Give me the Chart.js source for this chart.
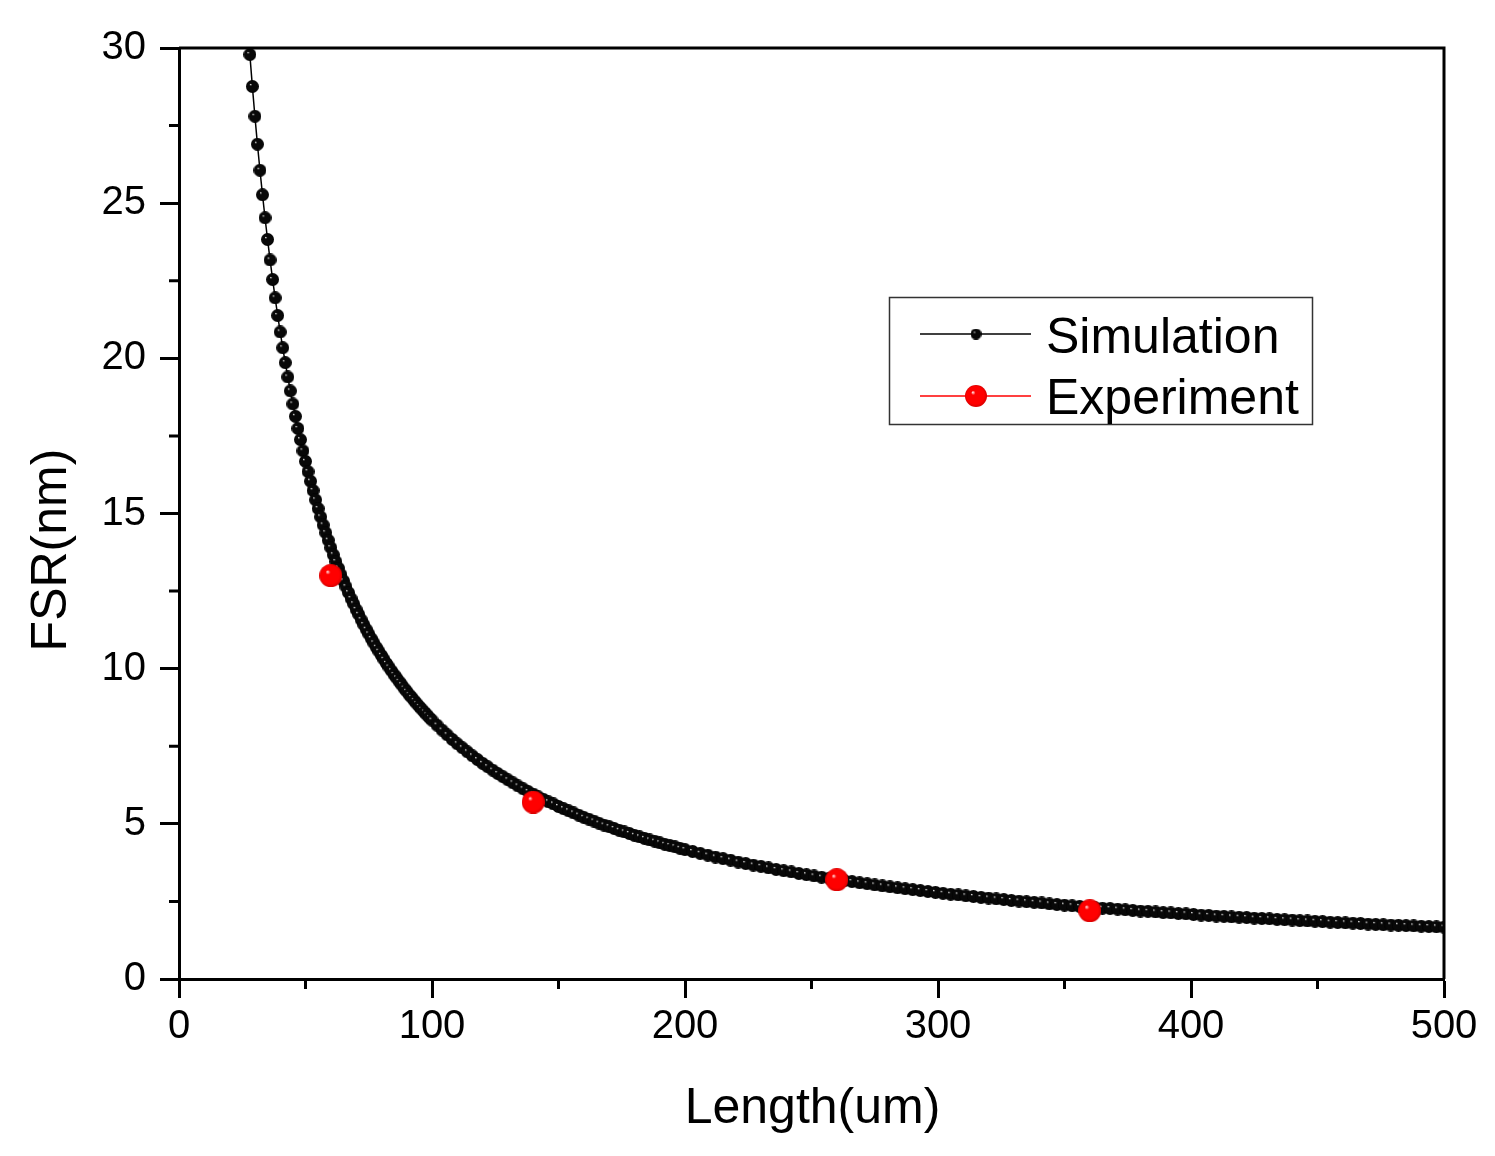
<!DOCTYPE html>
<html>
<head>
<meta charset="utf-8">
<script src="https://cdn.jsdelivr.net/npm/chart.js@4"></script>
<style>
  body { margin: 0; background: #fff; }
  canvas { display: block; }
</style>
</head>
<body>
<canvas id="fsrChart" width="1495" height="1156"></canvas>
<script>
// simulation: FSR
const simLength = [
  28, 29, 30, 31, 32, 33, 34, 35, 36, 37, 38, 39, 40, 41, 42, 43, 44, 45, 46, 47,
  48, 49, 50, 51, 52, 53, 54, 55, 56, 57, 58, 59, 60, 61, 62, 63, 64, 65, 66, 67,
  68, 69, 70, 71, 72, 73, 74, 75, 76, 77, 78, 79, 80, 81, 82, 83, 84, 85, 86, 87,
  88, 89, 90, 91, 92, 93, 94, 95, 96, 97, 98, 99, 100,
  102, 104, 106, 108, 110, 112, 114, 116, 118, 120, 122, 124, 126, 128, 130, 132, 134, 136, 138, 140,
  142, 144, 146, 148, 150, 152, 154, 156, 158, 160, 162, 164, 166, 168, 170, 172, 174, 176, 178, 180,
  182, 184, 186, 188, 190, 192, 194, 196, 198, 200,
  203, 206, 209, 212, 215, 218, 221, 224, 227, 230, 233, 236, 239, 242, 245, 248, 251, 254, 257, 260,
  263, 266, 269, 272, 275, 278, 281, 284, 287, 290, 293, 296, 299, 302, 305, 308, 311, 314, 317, 320,
  323, 326, 329, 332, 335, 338, 341, 344, 347, 350, 353, 356, 359, 362, 365, 368, 371, 374, 377, 380,
  383, 386, 389, 392, 395, 398, 401, 404, 407, 410, 413, 416, 419, 422, 425, 428, 431, 434, 437, 440,
  443, 446, 449, 452, 455, 458, 461, 464, 467, 470, 473, 476, 479, 482, 485, 488, 491, 494, 497, 500
];
const simFsr = [
  29.79, 28.76, 27.80, 26.90, 26.06, 25.27, 24.53, 23.83, 23.17, 22.54, 21.95, 21.38, 20.85, 20.34, 19.86, 19.40, 18.95, 18.53, 18.13, 17.74,
  17.38, 17.02, 16.68, 16.35, 16.04, 15.74, 15.44, 15.16, 14.89, 14.63, 14.38, 14.14, 13.90, 13.67, 13.45, 13.24, 13.03, 12.83, 12.64, 12.45,
  12.26, 12.09, 11.91, 11.75, 11.58, 11.42, 11.27, 11.12, 10.97, 10.83, 10.69, 10.56, 10.43, 10.30, 10.17, 10.05, 9.93, 9.81, 9.70, 9.59,
  9.48, 9.37, 9.27, 9.16, 9.07, 8.97, 8.87, 8.78, 8.69, 8.60, 8.51, 8.42, 8.34,
  8.18, 8.02, 7.87, 7.72, 7.58, 7.45, 7.32, 7.19, 7.07, 6.95, 6.84, 6.73, 6.62, 6.52, 6.42, 6.32, 6.22, 6.13, 6.04, 5.96,
  5.87, 5.79, 5.71, 5.64, 5.56, 5.49, 5.42, 5.35, 5.28, 5.21, 5.15, 5.09, 5.02, 4.96, 4.91, 4.85, 4.79, 4.74, 4.69, 4.63,
  4.58, 4.53, 4.48, 4.44, 4.39, 4.34, 4.30, 4.26, 4.21, 4.17,
  4.11, 4.05, 3.99, 3.93, 3.88, 3.83, 3.77, 3.72, 3.67, 3.63, 3.58, 3.53, 3.49, 3.45, 3.40, 3.36, 3.32, 3.28, 3.25, 3.21,
  3.17, 3.14, 3.10, 3.07, 3.03, 3.00, 2.97, 2.94, 2.91, 2.88, 2.85, 2.82, 2.79, 2.76, 2.73, 2.71, 2.68, 2.66, 2.63, 2.61,
  2.58, 2.56, 2.53, 2.51, 2.49, 2.47, 2.45, 2.42, 2.40, 2.38, 2.36, 2.34, 2.32, 2.30, 2.28, 2.27, 2.25, 2.23, 2.21, 2.19,
  2.18, 2.16, 2.14, 2.13, 2.11, 2.10, 2.08, 2.06, 2.05, 2.03, 2.02, 2.00, 1.99, 1.98, 1.96, 1.95, 1.94, 1.92, 1.91, 1.90,
  1.88, 1.87, 1.86, 1.85, 1.83, 1.82, 1.81, 1.80, 1.79, 1.77, 1.76, 1.75, 1.74, 1.73, 1.72, 1.71, 1.70, 1.69, 1.68, 1.67
];

// measured points
const expLength = [60, 140, 260, 360];
const expFsr = [13.0, 5.7, 3.2, 2.2];

const xTicks = [0, 100, 200, 300, 400, 500];
const yTicks = [0, 5, 10, 15, 20, 25, 30];
const xMinor = [50, 150, 250, 350, 450];
const yMinor = [2.5, 7.5, 12.5, 17.5, 22.5, 27.5];

const seriesNames = ['Simulation', 'Experiment'];
const axisTitles = { x: 'Length(um)', y: 'FSR(nm)' };

const FONT = '"Liberation Sans", Arial, sans-serif';

// shaded ball sprite for the markers
const makeBall = (d, body, edge) => {
  const c = document.createElement('canvas');
  c.width = d;
  c.height = d;
  const g = c.getContext('2d');
  const r = d / 2;
  const grad = g.createRadialGradient(r * 0.7, r * 0.65, 0, r, r, r);
  grad.addColorStop(0, '#ffffff');
  grad.addColorStop(0.2, body);
  grad.addColorStop(0.8, body);
  grad.addColorStop(1, edge);
  g.fillStyle = grad;
  g.beginPath();
  g.arc(r, r, r, 0, Math.PI * 2);
  g.fill();
  return c;
};
const blackBall = makeBall(13, '#080808', '#000000');
const redBall = makeBall(23, '#ff0000', '#d80000');
const blackBallSmall = makeBall(11, '#080808', '#000000');
const redBallSmall = makeBall(22, '#ff0000', '#d80000');

const simPoints = simLength.map((x, i) => ({ x: x, y: simFsr[i] }));
const expPoints = expLength.map((x, i) => ({ x: x, y: expFsr[i] }));

const frameAndExtras = {
  id: 'frameAndExtras',
  afterDraw(chart) {
    const { ctx, chartArea, scales } = chart;
    const xs = scales.x, ys = scales.y;
    ctx.save();
    ctx.strokeStyle = '#000';
    ctx.lineWidth = 3;
    // top and right frame
    ctx.beginPath();
    ctx.moveTo(chartArea.left, chartArea.top);
    ctx.lineTo(chartArea.right, chartArea.top);
    ctx.lineTo(chartArea.right, chartArea.bottom);
    ctx.stroke();
    // minor ticks
    ctx.beginPath();
    xMinor.forEach(v => {
      const px = xs.getPixelForValue(v);
      ctx.moveTo(px, chartArea.bottom);
      ctx.lineTo(px, chartArea.bottom + 10);
    });
    yMinor.forEach(v => {
      const py = ys.getPixelForValue(v);
      ctx.moveTo(chartArea.left, py);
      ctx.lineTo(chartArea.left - 10, py);
    });
    ctx.stroke();

    // axis titles
    ctx.fillStyle = '#000';
    ctx.font = '50px ' + FONT;
    ctx.textAlign = 'center';
    ctx.textBaseline = 'alphabetic';
    ctx.fillText(axisTitles.x, (chartArea.left + chartArea.right) / 2 + 1, 1123);
    ctx.save();
    ctx.translate(66, 550);
    ctx.rotate(-Math.PI / 2);
    ctx.fillText(axisTitles.y, 0, 0);
    ctx.restore();

    // legend box
    ctx.lineWidth = 1.5;
    ctx.strokeStyle = '#333';
    ctx.strokeRect(889.5, 297.5, 423, 127);
    ctx.strokeStyle = '#000';
    ctx.beginPath();
    ctx.moveTo(920, 334);
    ctx.lineTo(1031, 334);
    ctx.stroke();
    ctx.drawImage(blackBallSmall, 976 - 5.5, 334 - 5.5);
    ctx.strokeStyle = '#ff0000';
    ctx.beginPath();
    ctx.moveTo(920, 396);
    ctx.lineTo(1031, 396);
    ctx.stroke();
    ctx.drawImage(redBallSmall, 976 - 11, 396 - 11);
    ctx.textAlign = 'left';
    ctx.fillStyle = '#000';
    ctx.font = '50px ' + FONT;
    ctx.fillText(seriesNames[0], 1046, 353);
    ctx.fillText(seriesNames[1], 1046, 414);
    ctx.restore();
  }
};

const ctx = document.getElementById('fsrChart').getContext('2d');
const fsrChart = new Chart(ctx, {
  type: 'scatter',
  data: {
    datasets: [
      {
        label: seriesNames[1],
        data: expPoints,
        showLine: false,
        pointStyle: redBall,
        pointRadius: 11,
        order: 0,
      },
      {
        label: seriesNames[0],
        data: simPoints,
        showLine: true,
        borderColor: '#000',
        borderWidth: 1.5,
        tension: 0,
        pointStyle: blackBall,
        pointRadius: 6,
        order: 1,
      },
    ],
  },
  options: {
    responsive: false,
    animation: false,
    devicePixelRatio: 1,
    layout: { padding: { left: 0, top: 48, right: 51, bottom: 0 } },
    plugins: {
      legend: { display: false },
      tooltip: { enabled: false },
    },
    scales: {
      x: {
        type: 'linear',
        min: 0,
        max: 500,
        afterBuildTicks: scale => { scale.ticks = xTicks.map(v => ({ value: v })); },
        afterFit: scale => { scale.height = 177; },
        grid: { drawOnChartArea: false, tickLength: 19, tickWidth: 3, tickColor: '#000' },
        border: { display: true, width: 3, color: '#000' },
        ticks: { color: '#000', padding: 5, maxRotation: 0, font: { family: FONT, size: 40 } },
      },
      y: {
        type: 'linear',
        min: 0,
        max: 30,
        afterBuildTicks: scale => { scale.ticks = yTicks.map(v => ({ value: v })); },
        afterFit: scale => { scale.width = 179; },
        grid: { drawOnChartArea: false, tickLength: 19, tickWidth: 3, tickColor: '#000' },
        border: { display: true, width: 3, color: '#000' },
        ticks: { color: '#000', padding: 14, font: { family: FONT, size: 40 } },
      },
    },
  },
  plugins: [frameAndExtras],
});
</script>
</body>
</html>
